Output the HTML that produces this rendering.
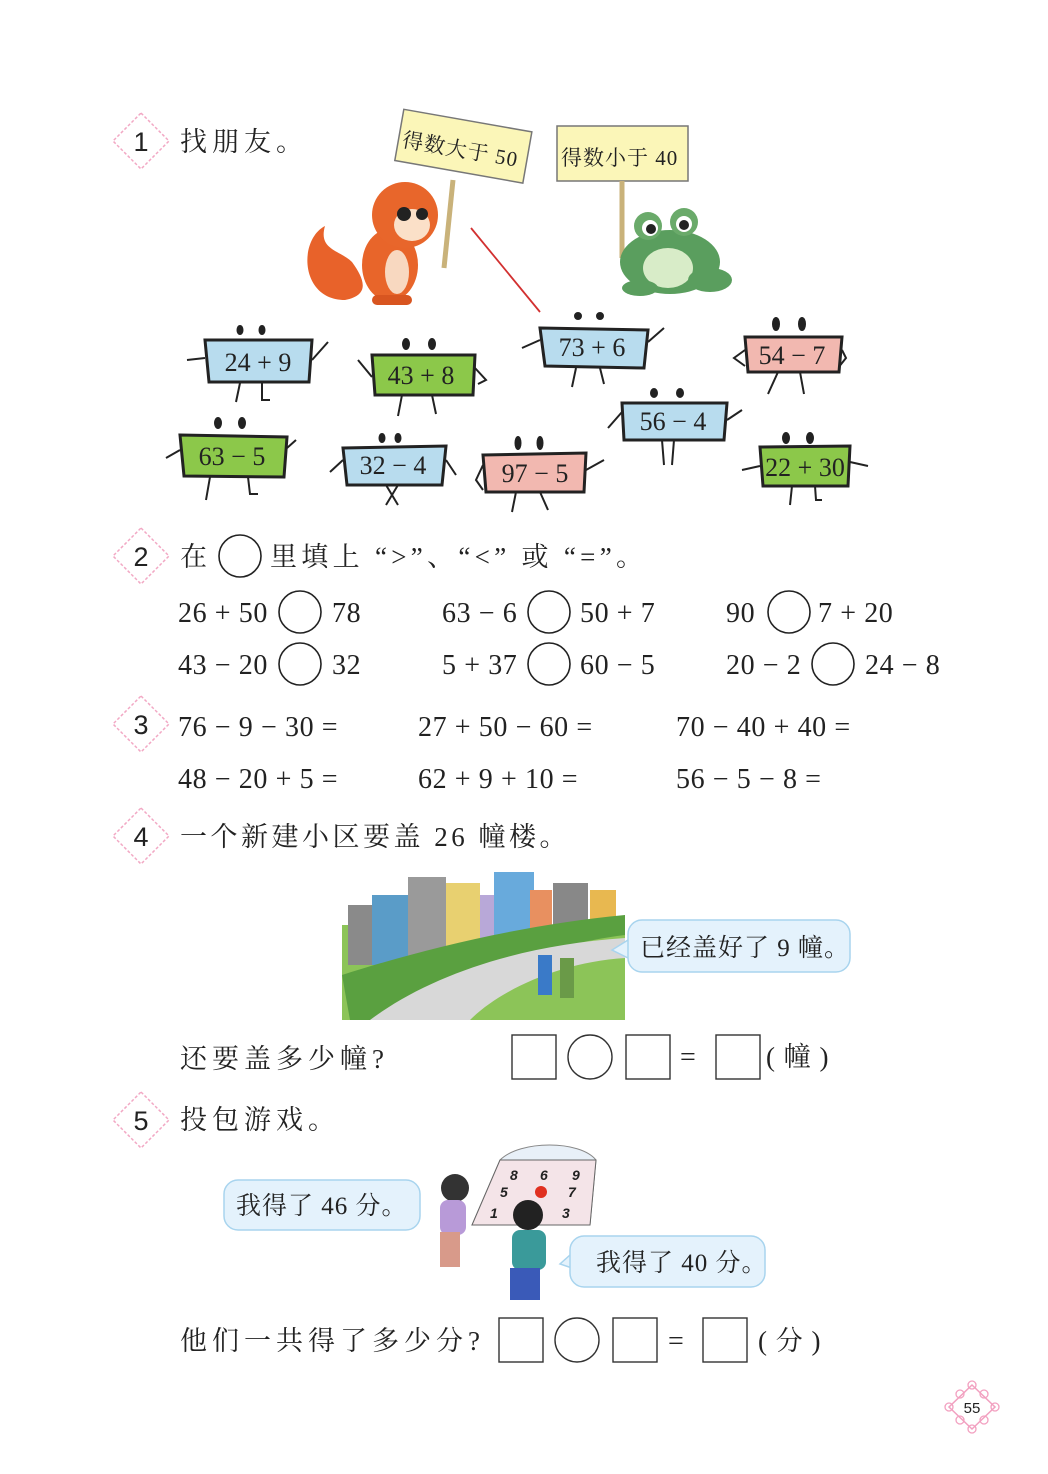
<!DOCTYPE html>
<html><head><meta charset="utf-8"><style>
html,body{margin:0;padding:0;background:#fff;}
svg{display:block;}
.m{font-family:"Liberation Serif",serif;font-size:28px;fill:#222;letter-spacing:0.6px;}
.c{font-family:"Liberation Serif","Noto Serif CJK SC",serif;font-size:27px;fill:#222;letter-spacing:5px;}
.n{font-family:"Liberation Sans",sans-serif;font-size:27px;fill:#222;}
.card{font-family:"Liberation Serif",serif;font-size:26px;fill:#222;}
</style></head><body>
<svg width="1048" height="1474" viewBox="0 0 1048 1474" xmlns="http://www.w3.org/2000/svg">
<defs>
<g id="mk"><polygon points="0,-28 28,0 0,28 -28,0" fill="none" stroke="#f2a8c4" stroke-width="1.5" stroke-dasharray="3,2"/></g>
</defs>
<use href="#mk" x="141" y="141"/><text class="n" x="141" y="151" text-anchor="middle">1</text>
<use href="#mk" x="141" y="556"/><text class="n" x="141" y="566" text-anchor="middle">2</text>
<use href="#mk" x="141" y="724"/><text class="n" x="141" y="734" text-anchor="middle">3</text>
<use href="#mk" x="141" y="836"/><text class="n" x="141" y="846" text-anchor="middle">4</text>
<use href="#mk" x="141" y="1120"/><text class="n" x="141" y="1130" text-anchor="middle">5</text>

<text class="c" x="180" y="151">找朋友。</text>

<g transform="rotate(10 462 148)">
<rect x="398" y="120" width="130" height="52" fill="#fbf6b8" stroke="#777" stroke-width="1.5"/>
<text class="c" x="402" y="157" style="font-size:21px;letter-spacing:1px">得数大于 50</text>
</g>
<line x1="453" y1="180" x2="444" y2="268" stroke="#c9b27a" stroke-width="5"/>
<rect x="557" y="126" width="131" height="55" fill="#fbf6b8" stroke="#777" stroke-width="1.5"/>
<text class="c" x="561" y="165" style="font-size:21px;letter-spacing:1px">得数小于 40</text>
<line x1="622" y1="181" x2="622" y2="258" stroke="#c9b27a" stroke-width="5"/>

<path d="M345 300 C300 300 298 240 325 226 C318 250 340 250 352 262 C365 280 370 295 345 300Z" fill="#e8622a"/>
<ellipse cx="390" cy="265" rx="28" ry="36" fill="#e8652a"/>
<ellipse cx="397" cy="272" rx="12" ry="22" fill="#f8d8c0"/>
<ellipse cx="405" cy="215" rx="33" ry="33" fill="#e8662b"/>
<ellipse cx="412" cy="225" rx="18" ry="16" fill="#fbe0c8"/>
<circle cx="404" cy="214" r="7" fill="#222"/><circle cx="422" cy="214" r="6" fill="#222"/>
<rect x="372" y="295" width="40" height="10" rx="5" fill="#d85520"/>
<ellipse cx="670" cy="262" rx="50" ry="32" fill="#5a9e5e"/>
<ellipse cx="668" cy="268" rx="25" ry="20" fill="#d8ecc8"/>
<circle cx="648" cy="226" r="14" fill="#6aaa6a"/><circle cx="684" cy="222" r="14" fill="#6aaa6a"/>
<circle cx="650" cy="228" r="8" fill="#fff"/><circle cx="684" cy="224" r="8" fill="#fff"/>
<circle cx="651" cy="229" r="5" fill="#222"/><circle cx="684" cy="225" r="5" fill="#222"/>
<ellipse cx="710" cy="280" rx="22" ry="12" fill="#5a9e5e"/>
<ellipse cx="640" cy="288" rx="18" ry="8" fill="#5a9e5e"/>

<line x1="471" y1="228" x2="540" y2="312" stroke="#d23030" stroke-width="1.8"/>

<g stroke="#222" stroke-width="2" fill="none">
<path d="M187 360 L205 358 M312 360 L328 342 M240 383 L236 402 M262 383 L262 400 L270 400"/>
<ellipse cx="240" cy="330" rx="2.5" ry="4" fill="#222"/><ellipse cx="262" cy="330" rx="2.5" ry="4" fill="#222"/>
<path d="M358 360 L372 377 M475 368 L486 380 L478 384 M402 395 L398 416 M432 395 L436 414"/>
<ellipse cx="406" cy="344" rx="3" ry="5" fill="#222"/><ellipse cx="432" cy="344" rx="3" ry="5" fill="#222"/>
<path d="M522 348 L540 340 M648 342 L664 328 M576 368 L572 387 M600 368 L604 384"/>
<ellipse cx="578" cy="316" rx="3" ry="3" fill="#222"/><ellipse cx="600" cy="316" rx="3" ry="3" fill="#222"/>
<path d="M745 350 L734 358 L745 366 M842 350 L846 358 L838 368 M778 372 L768 394 M800 372 L804 394"/>
<ellipse cx="776" cy="324" rx="3" ry="6" fill="#222"/><ellipse cx="802" cy="324" rx="3" ry="6" fill="#222"/>
<path d="M608 428 L622 412 M727 420 L742 410 M662 440 L664 465 M674 440 L672 465"/>
<ellipse cx="654" cy="393" rx="3" ry="4" fill="#222"/><ellipse cx="680" cy="393" rx="3" ry="4" fill="#222"/>
<path d="M166 458 L180 450 M287 448 L296 440 M210 477 L206 500 M248 477 L250 494 L258 494"/>
<ellipse cx="218" cy="423" rx="3" ry="5" fill="#222"/><ellipse cx="242" cy="423" rx="3" ry="5" fill="#222"/>
<path d="M330 472 L343 460 M446 460 L456 475 M386 485 L398 505 M398 485 L386 505"/>
<ellipse cx="382" cy="438" rx="2.5" ry="4" fill="#222"/><ellipse cx="398" cy="438" rx="2.5" ry="4" fill="#222"/>
<path d="M483 465 L476 480 L483 490 M586 470 L604 460 M516 492 L512 512 M540 492 L548 510"/>
<ellipse cx="518" cy="443" rx="2.5" ry="6" fill="#222"/><ellipse cx="540" cy="443" rx="2.5" ry="6" fill="#222"/>
<path d="M742 470 L760 466 M850 462 L868 466 M792 486 L790 505 M815 486 L816 500 L822 500"/>
<ellipse cx="786" cy="438" rx="3" ry="5" fill="#222"/><ellipse cx="810" cy="438" rx="3" ry="5" fill="#222"/>
</g>
<g stroke="#222" stroke-width="3">
<polygon points="205,340 312,340 309,382 209,382" fill="#b8dcee"/>
<polygon points="372,355 475,355 473,395 375,395" fill="#8cc84a"/>
<polygon points="540,328 648,330 644,368 545,366" fill="#b8dcee"/>
<polygon points="745,337 842,337 839,372 748,372" fill="#f2b8b0"/>
<polygon points="622,403 727,403 724,440 624,440" fill="#b8dcee"/>
<polygon points="180,435 287,437 284,477 184,476" fill="#8cc84a"/>
<polygon points="343,448 446,446 442,485 347,485" fill="#b8dcee"/>
<polygon points="483,455 586,453 584,492 486,492" fill="#f2b8b0"/>
<polygon points="760,447 850,446 848,486 763,486" fill="#8cc84a"/>
</g>
<g class="card" text-anchor="middle">
<text x="258" y="371">24 + 9</text>
<text x="421" y="384">43 + 8</text>
<text x="592" y="356">73 + 6</text>
<text x="792" y="364">54 − 7</text>
<text x="673" y="430">56 − 4</text>
<text x="232" y="465">63 − 5</text>
<text x="393" y="474">32 − 4</text>
<text x="535" y="482">97 − 5</text>
<text x="805" y="476">22 + 30</text>
</g>

<text class="c" x="180" y="566">在</text>
<circle cx="240" cy="556" r="21" fill="none" stroke="#222" stroke-width="1.6"/>
<text class="c" x="270" y="566" textLength="378" lengthAdjust="spacing">里填上 “&gt;”、“&lt;” 或 “=”。</text>
<g class="m">
<text x="178" y="622">26 + 50</text><text x="332" y="622">78</text>
<text x="442" y="622">63 − 6</text><text x="580" y="622">50 + 7</text>
<text x="726" y="622">90</text><text x="818" y="622">7 + 20</text>
<text x="178" y="674">43 − 20</text><text x="332" y="674">32</text>
<text x="442" y="674">5 + 37</text><text x="580" y="674">60 − 5</text>
<text x="726" y="674">20 − 2</text><text x="865" y="674">24 − 8</text>
</g>
<g fill="none" stroke="#222" stroke-width="1.6">
<circle cx="300" cy="612" r="21"/><circle cx="549" cy="612" r="21"/><circle cx="789" cy="612" r="21"/>
<circle cx="300" cy="664" r="21"/><circle cx="549" cy="664" r="21"/><circle cx="833" cy="664" r="21"/>
</g>

<g class="m">
<text x="178" y="736">76 − 9 − 30 =</text>
<text x="418" y="736">27 + 50 − 60 =</text>
<text x="676" y="736">70 − 40 + 40 =</text>
<text x="178" y="788">48 − 20 + 5 =</text>
<text x="418" y="788">62 + 9 + 10 =</text>
<text x="676" y="788">56 − 5 − 8 =</text>
</g>

<text class="c" x="180" y="846" style="letter-spacing:3.5px">一个新建小区要盖 26 幢楼。</text>
<rect x="342" y="925" width="283" height="95" fill="#8cc458"/>
<rect x="348" y="905" width="52" height="60" fill="#8a8a8a"/>
<rect x="372" y="895" width="62" height="70" fill="#5a9cc8"/>
<rect x="408" y="877" width="38" height="80" fill="#9a9a9a"/>
<rect x="446" y="883" width="34" height="70" fill="#e8d070"/>
<rect x="480" y="895" width="26" height="55" fill="#b8a8d8"/>
<rect x="494" y="872" width="40" height="75" fill="#68aadc"/>
<rect x="530" y="890" width="22" height="45" fill="#e89060"/>
<rect x="553" y="883" width="35" height="50" fill="#888"/>
<rect x="590" y="890" width="26" height="35" fill="#e8b850"/>
<path d="M342 975 C420 950 520 925 625 915 L625 935 C540 945 470 980 420 1020 L350 1020Z" fill="#5aa040"/>
<path d="M370 1020 C430 975 520 945 625 938 L625 958 C560 962 500 990 470 1020Z" fill="#d8d8d8"/>
<rect x="538" y="955" width="14" height="40" fill="#3a7ac8"/>
<rect x="560" y="958" width="14" height="40" fill="#6a9a48"/>
<path d="M628 940 L612 950 L628 958" fill="#e4f2fc" stroke="#a8d4ee" stroke-width="1.5"/>
<rect x="628" y="920" width="222" height="52" rx="14" fill="#e4f2fc" stroke="#a8d4ee" stroke-width="1.5"/>
<text class="c" x="640" y="956" style="font-size:25px;letter-spacing:1px">已经盖好了 9 幢。</text>

<text class="c" x="180" y="1068">还要盖多少幢?</text>
<g fill="none" stroke="#333" stroke-width="1.4">
<rect x="512" y="1035" width="44" height="44"/><circle cx="590" cy="1057" r="22"/>
<rect x="626" y="1035" width="44" height="44"/><rect x="716" y="1035" width="44" height="44"/>
<rect x="499" y="1318" width="44" height="44"/><circle cx="577" cy="1340" r="22"/>
<rect x="613" y="1318" width="44" height="44"/><rect x="703" y="1318" width="44" height="44"/>
</g>
<text class="m" x="680" y="1066">=</text>
<text class="c" x="766" y="1066" style="letter-spacing:1px">( 幢 )</text>

<text class="c" x="180" y="1129">投包游戏。</text>
<path d="M500 1160 C520 1140 580 1140 596 1160 L590 1225 L472 1225Z" fill="#e8f0f8" stroke="#888"/>
<path d="M500 1160 L596 1160 L590 1225 L472 1225Z" fill="#f4e4e8" stroke="#666"/>
<g font-family="Liberation Sans,sans-serif" font-weight="bold" font-style="italic" font-size="14" fill="#222">
<text x="510" y="1180">8</text><text x="540" y="1180">6</text><text x="572" y="1180">9</text>
<text x="500" y="1197">5</text><text x="568" y="1197">7</text><text x="490" y="1218">1</text><text x="562" y="1218">3</text>
</g>
<circle cx="541" cy="1192" r="6" fill="#e03020"/>
<circle cx="455" cy="1188" r="14" fill="#333"/><rect x="440" y="1200" width="26" height="35" rx="8" fill="#b89ad8"/>
<rect x="440" y="1232" width="20" height="35" fill="#d89a8a"/>
<circle cx="528" cy="1215" r="15" fill="#222"/><rect x="512" y="1230" width="34" height="40" rx="8" fill="#3a9a9a"/>
<rect x="510" y="1268" width="30" height="32" fill="#3a5ab8"/>
<path d="M420 1200 L406 1210 L420 1214" fill="#e4f2fc" stroke="#a8d4ee" stroke-width="1.5"/>
<rect x="224" y="1180" width="196" height="50" rx="14" fill="#e4f2fc" stroke="#a8d4ee" stroke-width="1.5"/>
<text class="c" x="236" y="1214" style="font-size:25px;letter-spacing:1px">我得了 46 分。</text>
<path d="M570 1255 L560 1264 L572 1268" fill="#e4f2fc" stroke="#a8d4ee" stroke-width="1.5"/>
<rect x="570" y="1236" width="195" height="51" rx="14" fill="#e4f2fc" stroke="#a8d4ee" stroke-width="1.5"/>
<text class="c" x="596" y="1271" style="font-size:25px;letter-spacing:1px">我得了 40 分。</text>

<text class="c" x="180" y="1350">他们一共得了多少分?</text>
<text class="m" x="668" y="1350">=</text>
<text class="c" x="758" y="1350" style="letter-spacing:1px">( 分 )</text>

<polygon points="972,1385 995,1407 972,1429 949,1407" fill="none" stroke="#f2a0c0" stroke-width="1.5"/>
<g fill="none" stroke="#f2a0c0" stroke-width="1.3">
<circle cx="972" cy="1385" r="4"/><circle cx="995" cy="1407" r="4"/><circle cx="972" cy="1429" r="4"/><circle cx="949" cy="1407" r="4"/>
<circle cx="984" cy="1394" r="4"/><circle cx="960" cy="1394" r="4"/><circle cx="984" cy="1420" r="4"/><circle cx="960" cy="1420" r="4"/>
</g>
<text x="972" y="1413" text-anchor="middle" font-family="Liberation Sans,sans-serif" font-size="15" fill="#222">55</text>
</svg>
</body></html>
